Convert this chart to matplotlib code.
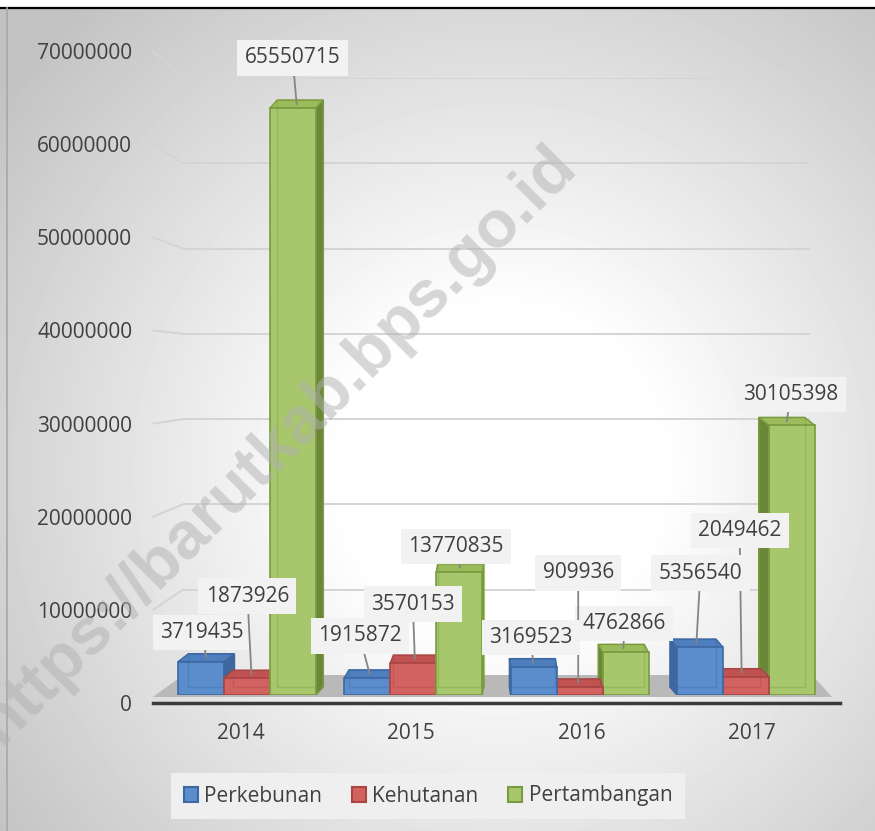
import matplotlib
matplotlib.use('Agg')
import matplotlib.pyplot as plt
from matplotlib.patches import Polygon, Patch, ConnectionPatch
from matplotlib.lines import Line2D
import numpy as np

years = ['2014', '2015', '2016', '2017']
series_names = ['Perkebunan', 'Kehutanan', 'Pertambangan']
perkebunan = [3719435, 1915872, 3169523, 5356540]
kehutanan = [1873926, 3570153, 909936, 2049462]
pertambangan = [65550715, 13770835, 4762866, 30105398]
y_ticks = [0, 10000000, 20000000, 30000000, 40000000, 50000000, 60000000, 70000000]

# front, edge, top, side
styles = [
    ('#5b8ccb', '#3c68a3', '#4e7ebe', '#3f679e'),
    ('#d1625f', '#a94543', '#c05351', '#a44240'),
    ('#a8c76c', '#7a9a40', '#9cbc5b', '#6b8638'),
]

# label offsets (pixels) from the top face of each bar
label_offsets = [
    [(-4, 25), (-10, 38), (-2, 25), (4, 70)],
    [(-4, 78), (-2, 55), (0, 110), (-2, 142)],
    [(-4, 46), (-4, 21), (1, 25), (4, 27)],
]

W, H = 875, 831
txt = '#404040'
plt.rcParams['font.family'] = ['Open Sans', 'DejaVu Sans']

fig = plt.figure(figsize=(W / 100, H / 100), dpi=100)

# background gradient
bg = fig.add_axes([0, 0, 1, 1])
yy, xx = np.mgrid[0:H, 0:W]
r = np.hypot(xx - 500, yy - 470)
g = 1 - 0.24 * np.clip((r - 160) / 470, 0, 1)
g[:8, :] = 1
bg.imshow(g, cmap='gray', vmin=0, vmax=1, extent=(0, W, H, 0), aspect='auto')
bg.set_axis_off()
bg.set_zorder(0)

# back wall gridlines
ax_wall = fig.add_axes([183 / W, (H - 675) / H, (810 - 183) / W, (675 - 78) / H])
ax_wall.set_ylim(0, 70000000)
ax_wall.set_yticks(y_ticks[1:])
ax_wall.set_xticks([])
ax_wall.tick_params(length=0, labelleft=False)
ax_wall.grid(axis='y', color='#d4d4d4', lw=1.4)
for s in ax_wall.spines.values():
    s.set_visible(False)
ax_wall.patch.set_alpha(0)
ax_wall.set_zorder(1)

# y tick labels (left edge of this axes sits where the gridline leaders start)
ax_lab = fig.add_axes([153 / W, (H - 703) / H, 1 / W, (703 - 51) / H])
ax_lab.set_ylim(0, 70000000)
ax_lab.set_yticks(y_ticks, [str(v) for v in y_ticks])
ax_lab.set_xticks([])
ax_lab.tick_params(length=0, pad=15, labelsize=15, labelcolor=txt)
for s in ax_lab.spines.values():
    s.set_visible(False)
ax_lab.patch.set_alpha(0)
ax_lab.set_zorder(1)

for v in y_ticks[1:]:
    con = ConnectionPatch(xyA=(0, v), coordsA=ax_lab.get_yaxis_transform(),
                          xyB=(0, v), coordsB=ax_wall.get_yaxis_transform(),
                          color='#d4d4d4', lw=1.4)
    fig.add_artist(con)

# main bar axes
ax = fig.add_axes([0, (H - 695) / H, 1, (695 - 8) / H])
px_x = 166.3
px_y = 8.955e-6
ax.set_xlim(-247 / px_x, (W - 247) / px_x)
ax.set_ylim(0, (695 - 8) / px_y)
for s in ax.spines.values():
    s.set_visible(False)
ax.patch.set_alpha(0)
ax.set_zorder(2)
ax.set_yticks([])

ux = (ax.get_xlim()[1] - ax.get_xlim()[0]) / ax.bbox.width
uy = (ax.get_ylim()[1] - ax.get_ylim()[0]) / ax.bbox.height


def to_x(px):
    return ax.get_xlim()[0] + px * ux


# floor
floor = Polygon([(to_x(153), -2 * uy), (to_x(832), -2 * uy),
                 (to_x(812), 20 * uy), (to_x(183), 20 * uy)],
                closed=True, fc='#b9b9b9', ec='none', zorder=1, clip_on=False)
ax.add_patch(floor)
ax.add_line(Line2D([to_x(153), to_x(840)], [-8 * uy, -8 * uy], color='#3a3a3a',
                   lw=2.5, clip_on=False, zorder=1))

bw = 46 * ux
vanish = to_x(500)
data = [perkebunan, kehutanan, pertambangan]

bars = []
for si, vals in enumerate(data):
    for i, v in enumerate(vals):
        xc = i + (si - 1) * bw
        bars.append((abs(xc - vanish), si, i, xc, v))
bars.sort(reverse=True)

for rank, (_, si, i, xc, v) in enumerate(bars):
    front, edge, top, side = styles[si]
    z = 3 + rank * 0.5
    ddx = 0.035 * (vanish - xc)
    ddy = 8 * uy
    xl, xr = xc - bw / 2, xc + bw / 2
    if ddx > 0:
        sp = [(xr, 0), (xr, v), (xr + ddx, v + ddy), (xr + ddx, ddy)]
    else:
        sp = [(xl, 0), (xl, v), (xl + ddx, v + ddy), (xl + ddx, ddy)]
    ax.add_patch(Polygon(sp, closed=True, fc=side, ec=edge, lw=1, zorder=z))
    tp = [(xl, v), (xr, v), (xr + ddx, v + ddy), (xl + ddx, v + ddy)]
    ax.add_patch(Polygon(tp, closed=True, fc=top, ec=edge, lw=1, zorder=z + 0.1))
    ax.bar(xc, v, width=bw, color=front, edgecolor=edge, lw=1.2, zorder=z + 0.2)
    ax.add_patch(Polygon([(xl + ddx, ddy), (xr + ddx, ddy), (xr + ddx, v + ddy),
                          (xl + ddx, v + ddy)], closed=True, fc='none', ec=edge,
                         lw=1, alpha=0.35, zorder=z + 0.3))

    ox, oy = label_offsets[si][i]
    ax.annotate(str(v), xy=(xc + ddx / 2, v + 4 * uy), xytext=(ox, oy),
                textcoords='offset pixels', ha='center', va='center',
                fontsize=15, color=txt, zorder=20,
                bbox=dict(boxstyle='square,pad=0.35', fc='#f2f2f2', ec='none'),
                arrowprops=dict(arrowstyle='-', color='#858585', lw=1.3,
                                shrinkA=0, shrinkB=0))

ticks = [i + 0.025 * (i - vanish) for i in range(len(years))]
ax.set_xticks(ticks, years)
ax.tick_params(axis='x', length=0, pad=20, labelsize=15, labelcolor=txt)

# legend
handles = [Patch(fc=st[0], ec=st[1], lw=1.5) for st in styles]
fig.legend(handles, series_names, loc='center', bbox_to_anchor=(428 / W, 1 - 796 / H),
           ncol=3, frameon=True, facecolor='#efefef', edgecolor='none', framealpha=1,
           fancybox=False, fontsize=15, labelcolor=txt, handlelength=0.7,
           handleheight=0.7, handletextpad=0.3, columnspacing=1.4, borderpad=0.6)

# frame lines
fig.add_artist(Line2D([0, 1], [1 - 8 / H, 1 - 8 / H], color='black', lw=1.6))
fig.add_artist(Line2D([7 / W, 7 / W], [0, 1 - 8 / H], color='#a8a8a8', lw=1.2))

fig.text(277 / W, 1 - 445 / H, 'https://barutkab.bps.go.id', rotation=45,
         ha='center', va='center', fontsize=48, fontweight='bold',
         family='Liberation Sans', color='#b0b0b0', alpha=0.5, zorder=30)

fig.savefig('out.png', dpi=100)
